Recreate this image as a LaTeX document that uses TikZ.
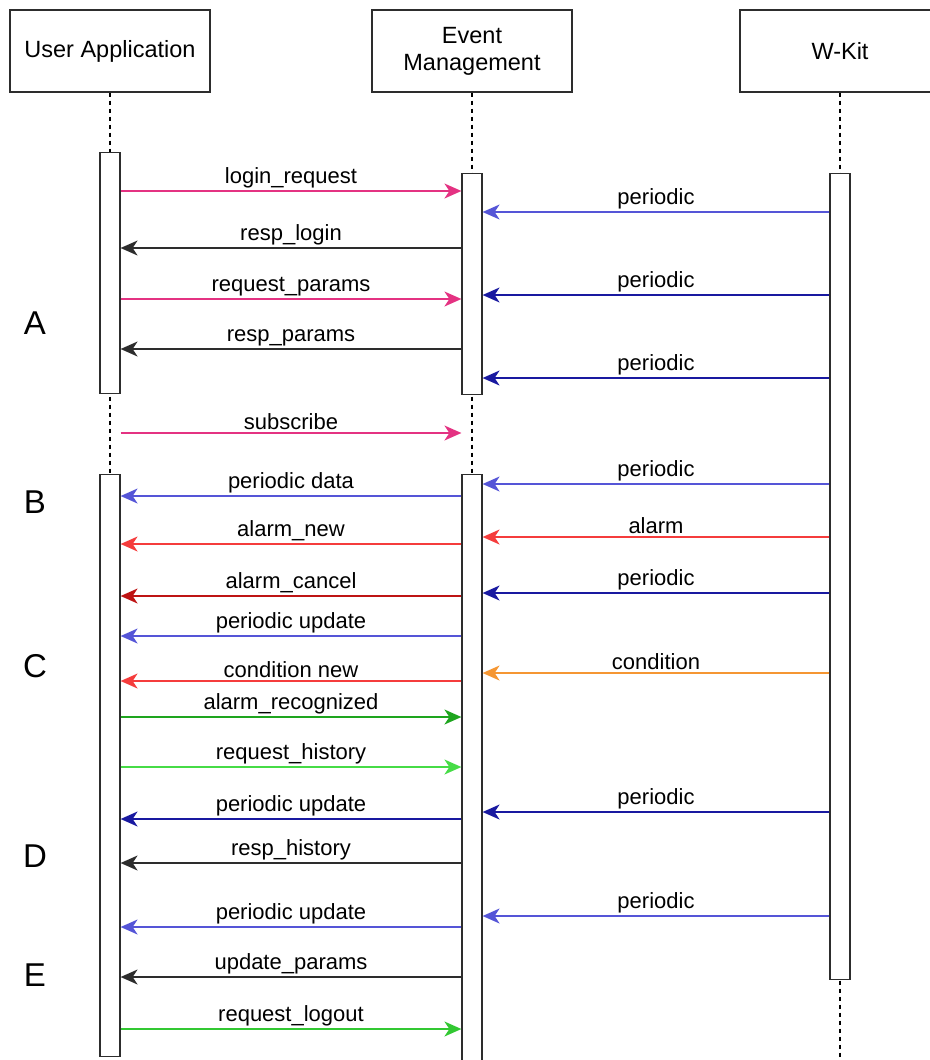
\documentclass[tikz,border=0pt]{standalone}
\usepackage{fontspec}
\setmainfont{Liberation Sans}
\usetikzlibrary{arrows.meta}
\definecolor{cpink}{RGB}{228,50,130}
\definecolor{cblueL}{RGB}{85,85,215}
\definecolor{cblueD}{RGB}{25,25,160}
\definecolor{credL}{RGB}{245,60,60}
\definecolor{credD}{RGB}{190,20,20}
\definecolor{corange}{RGB}{245,150,50}
\definecolor{cgreenD}{RGB}{30,165,30}
\definecolor{cgreenL}{RGB}{70,220,70}
\definecolor{cgreen}{RGB}{50,200,50}
\definecolor{cblack}{RGB}{45,45,45}
\tikzset{
  head/.style={draw=cblack, line width=1.2pt, rectangle, minimum width=200pt, minimum height=82pt, inner sep=0pt, align=center, font=\fontsize{23.5}{27}\selectfont},
  bar/.style={draw=cblack, line width=1.2pt, fill=white, rectangle, minimum width=20pt, inner sep=0pt, anchor=north},
  life/.style={draw=black, line width=1.2pt, dash pattern=on 4pt off 4pt},
  msg/.style={line width=1.6pt, -{Stealth[length=17pt,width=15pt,inset=5pt]}},
  lbl/.style={above, inner sep=2.5pt, text=black, font=\fontsize{22}{24}\selectfont},
  side/.style={font=\fontsize{33}{36}\selectfont}
}
\begin{document}
\begin{tikzpicture}[x=1pt,y=-1pt]
\useasboundingbox (0,0) rectangle (929,1060);
% headers
\node[head] (ua) at (110,51) {User Application};
\node[head] (em) at (472,51) {Event\\Management};
\node[head] (wk) at (840,51) {W-Kit};
% lifelines
\coordinate (uabot) at (110,1060);
\coordinate (embot) at (472,1060);
\coordinate (wkbot) at (840,1060);
\draw[life] (ua.south) -- (uabot);
\draw[life] (em.south) -- (embot);
\draw[life] (wk.south) -- (wkbot);
% activation bars
\node[bar, minimum height=241pt] (ua1) at (110,152) {};
\node[bar, minimum height=221pt] (em1) at (472,173) {};
\node[bar, minimum height=806pt] (wk1) at (840,173) {};
\node[bar, minimum height=582pt] (ua2) at (110,474) {};
\node[bar, minimum height=600pt] (em2) at (472,474) {};
% section letters
\node[side] (A) at (35,323) {A};
\node[side] (B) at (35,502) {B};
\node[side] (C) at (35,666) {C};
\node[side] (D) at (35,856) {D};
\node[side] (E) at (35,975) {E};
% phase A
\draw[msg, cpink] (ua1.east |- 0,191) -- (em1.west |- 0,191) node[lbl, midway] {login\_request};
\draw[msg, cblueL] (wk1.west |- 0,212) -- (em1.east |- 0,212) node[lbl, midway] {periodic};
\draw[msg, cblack] (em1.west |- 0,248) -- (ua1.east |- 0,248) node[lbl, midway] {resp\_login};
\draw[msg, cblueD] (wk1.west |- 0,295) -- (em1.east |- 0,295) node[lbl, midway] {periodic};
\draw[msg, cpink] (ua1.east |- 0,299) -- (em1.west |- 0,299) node[lbl, midway] {request\_params};
\draw[msg, cblack] (em1.west |- 0,349) -- (ua1.east |- 0,349) node[lbl, midway] {resp\_params};
\draw[msg, cblueD] (wk1.west |- 0,378) -- (em1.east |- 0,378) node[lbl, midway] {periodic};
\draw[msg, cpink] (ua1.east |- 0,433) -- (em1.west |- 0,433) node[lbl, midway] {subscribe};
% phase B, C
\draw[msg, cblueL] (wk1.west |- 0,484) -- (em2.east |- 0,484) node[lbl, midway] {periodic};
\draw[msg, cblueL] (em2.west |- 0,496) -- (ua2.east |- 0,496) node[lbl, midway] {periodic data};
\draw[msg, credL] (wk1.west |- 0,537) -- (em2.east |- 0,537) node[lbl, midway] {alarm};
\draw[msg, credL] (em2.west |- 0,544) -- (ua2.east |- 0,544) node[lbl, midway] {alarm\_new};
\draw[msg, cblueD] (wk1.west |- 0,593) -- (em2.east |- 0,593) node[lbl, midway] {periodic};
\draw[msg, credD] (em2.west |- 0,596) -- (ua2.east |- 0,596) node[lbl, midway] {alarm\_cancel};
\draw[msg, cblueL] (em2.west |- 0,636) -- (ua2.east |- 0,636) node[lbl, midway] {periodic update};
\draw[msg, corange] (wk1.west |- 0,673) -- (em2.east |- 0,673) node[lbl, midway] {condition};
\draw[msg, credL] (em2.west |- 0,681) -- (ua2.east |- 0,681) node[lbl, midway] {condition new};
\draw[msg, cgreenD] (ua2.east |- 0,717) -- (em2.west |- 0,717) node[lbl, midway] {alarm\_recognized};
% phase D, E
\draw[msg, cgreenL] (ua2.east |- 0,767) -- (em2.west |- 0,767) node[lbl, midway] {request\_history};
\draw[msg, cblueD] (wk1.west |- 0,812) -- (em2.east |- 0,812) node[lbl, midway] {periodic};
\draw[msg, cblueD] (em2.west |- 0,819) -- (ua2.east |- 0,819) node[lbl, midway] {periodic update};
\draw[msg, cblack] (em2.west |- 0,863) -- (ua2.east |- 0,863) node[lbl, midway] {resp\_history};
\draw[msg, cblueL] (wk1.west |- 0,916) -- (em2.east |- 0,916) node[lbl, midway] {periodic};
\draw[msg, cblueL] (em2.west |- 0,927) -- (ua2.east |- 0,927) node[lbl, midway] {periodic update};
\draw[msg, cblack] (em2.west |- 0,977) -- (ua2.east |- 0,977) node[lbl, midway] {update\_params};
\draw[msg, cgreen] (ua2.east |- 0,1029) -- (em2.west |- 0,1029) node[lbl, midway] {request\_logout};
\end{tikzpicture}
\end{document}
